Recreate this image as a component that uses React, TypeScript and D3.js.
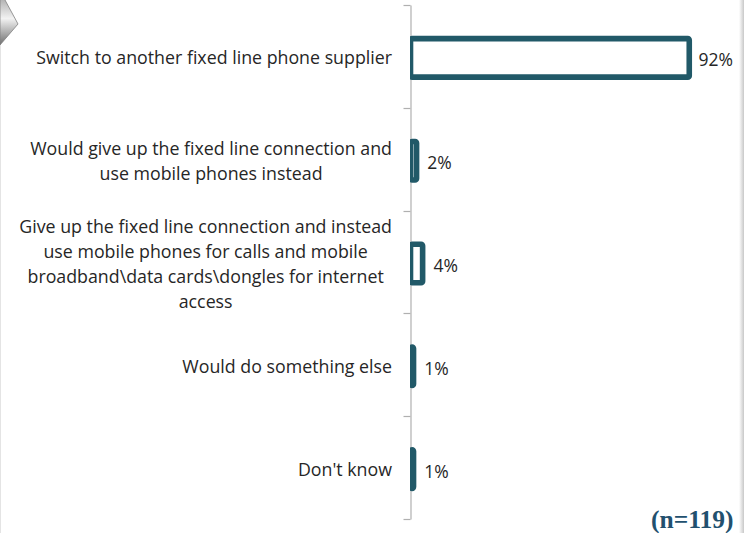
import React, { useEffect, useRef } from "react";
import * as d3 from "d3";

const categories = [
  "Switch to another fixed line phone supplier",
  "Would give up the fixed line connection and\nuse mobile phones instead",
  "Give up the fixed line connection and instead\nuse mobile phones for calls and mobile\nbroadband\\data cards\\dongles for internet\naccess",
  "Would do something else",
  "Don't know",
];
const values = [92, 2, 4, 1, 1];
const valueLabels = ["92%", "2%", "4%", "1%", "1%"];
const sampleNote = "(n=119)";

const W = 744;
const H = 533;
const BAR = "#215968";
const FONT = "'Open Sans', sans-serif";

export default function App() {
  const ref = useRef<SVGSVGElement | null>(null);

  useEffect(() => {
    const svg = d3.select(ref.current);
    svg.selectAll("*").remove();

    const defs = svg.append("defs");
    const g1 = defs
      .append("linearGradient")
      .attr("id", "chev")
      .attr("x1", "0")
      .attr("y1", "0")
      .attr("x2", "0")
      .attr("y2", "1");
    g1.append("stop").attr("offset", "0").attr("stop-color", "#9a9a9a");
    g1.append("stop").attr("offset", "0.5").attr("stop-color", "#f2f2f2");
    g1.append("stop").attr("offset", "1").attr("stop-color", "#6f6f6f");
    const g2 = defs
      .append("linearGradient")
      .attr("id", "edge")
      .attr("x1", "0")
      .attr("y1", "0")
      .attr("x2", "1")
      .attr("y2", "0");
    g2.append("stop").attr("offset", "0").attr("stop-color", "#ffffff");
    g2.append("stop").attr("offset", "1").attr("stop-color", "#c8c8c8");

    const axisX = 410.5;
    defs
      .append("clipPath")
      .attr("id", "plotclip")
      .append("rect")
      .attr("x", axisX - 0.5)
      .attr("y", 0)
      .attr("width", W)
      .attr("height", H);

    // decorations
    svg.append("rect").attr("x", 0).attr("y", 0).attr("width", W).attr("height", H).attr("fill", "#fff");
    svg.append("rect").attr("x", 739).attr("y", 0).attr("width", 5).attr("height", H).attr("fill", "url(#edge)");
    svg.append("line").attr("x1", 0.5).attr("x2", 0.5).attr("y1", 0).attr("y2", H).attr("stroke", "#e4e4e4");
    svg
      .append("polygon")
      .attr("points", "0,-8 5,0 18,24 0,45")
      .attr("fill", "url(#chev)")
      .attr("stroke", "#808080")
      .attr("stroke-width", 0.8);

    const y = d3.scaleBand<string>().domain(categories).range([5, 519]).padding(0);
    const x = d3.scaleLinear().domain([0, 100]).range([axisX, axisX + 303]);

    // axis
    const axisG = svg.append("g").attr("transform", `translate(${axisX},0)`);
    const axis = d3
      .axisLeft(y)
      .tickSize(0)
      .tickFormat(() => "");
    axisG.call(axis);
    axisG.select(".domain").attr("stroke", "#b0b0b0").attr("stroke-width", 1.2);
    const tickPos = categories.map((c) => y(c) as number).concat([519]);
    axisG
      .selectAll("line.tk")
      .data(tickPos)
      .enter()
      .append("line")
      .attr("class", "tk")
      .attr("x1", -7)
      .attr("x2", 0)
      .attr("y1", (d) => Math.round(d) + 0.5)
      .attr("y2", (d) => Math.round(d) + 0.5)
      .attr("stroke", "#b0b0b0")
      .attr("stroke-width", 1.2);

    // bars
    const sw = 5.6;
    const bh = 38.5;
    const barG = svg.append("g").attr("clip-path", "url(#plotclip)");
    barG
      .selectAll("rect")
      .data(values)
      .enter()
      .append("rect")
      .attr("x", x(0))
      .attr("y", (_, i) => (y(categories[i]) as number) + y.bandwidth() / 2 - bh / 2 + 1.5)
      .attr("width", (d) => x(d) - x(0))
      .attr("height", bh)
      .attr("rx", 1.5)
      .attr("fill", "#fff")
      .attr("stroke", BAR)
      .attr("stroke-width", sw);

    // value labels
    const vl = svg.append("g");
    values.forEach((v, i) => {
      const cy = (y(categories[i]) as number) + y.bandwidth() / 2 + 3;
      const t = vl
        .append("text")
        .attr("y", cy)
        .attr("dominant-baseline", "central")
        .attr("font-family", FONT)
        .attr("font-size", 17.5)
        .attr("fill", "#262626")
        .text(valueLabels[i]);
      const tw = (t.node() as SVGTextElement).getComputedTextLength();
      const end = x(v) + sw / 2;
      const px = Math.min(end + 8, 733 - tw);
      t.attr("x", px);
    });

    // category labels
    const lineH = 25;
    const rightEdge = 392;
    const cl = svg.append("g");
    categories.forEach((c) => {
      const lines = c.split("\n");
      const cy = (y(c) as number) + y.bandwidth() / 2 + 1;
      const grp = cl.append("g");
      const texts = lines.map((ln, j) =>
        grp
          .append("text")
          .attr("y", cy + (j - (lines.length - 1) / 2) * lineH)
          .attr("dominant-baseline", "central")
          .attr("text-anchor", "middle")
          .attr("font-family", FONT)
          .attr("font-size", 17.8)
          .attr("fill", "#262626")
          .text(ln)
      );
      const maxW = d3.max(texts, (t) => (t.node() as SVGTextElement).getComputedTextLength()) || 0;
      texts.forEach((t) => t.attr("x", rightEdge - maxW / 2));
    });

    // sample note
    svg
      .append("text")
      .attr("x", 651)
      .attr("y", 528)
      .attr("font-family", "'Liberation Serif', 'Times New Roman', serif")
      .attr("font-weight", "bold")
      .attr("font-size", 25.5)
      .attr("fill", "#22506e")
      .text(sampleNote);
  }, []);

  return (
    <svg
      ref={ref}
      width={W}
      height={H}
      style={{ display: "block", position: "absolute", left: 0, top: 0 }}
    />
  );
}
